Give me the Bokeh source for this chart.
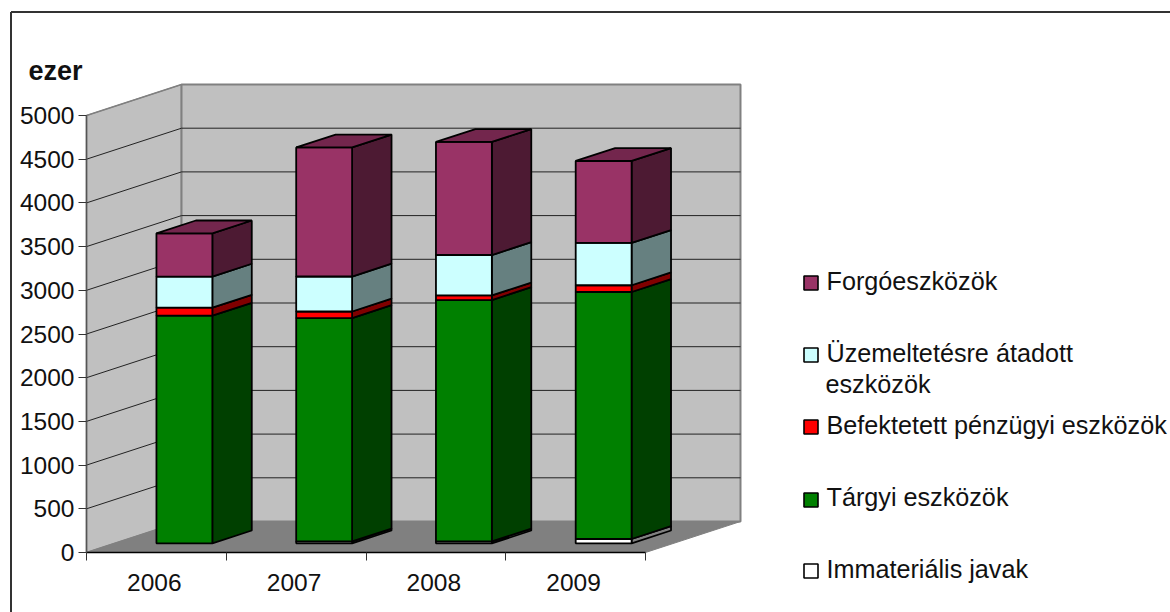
from bokeh.plotting import figure
from bokeh.models import Range1d, LinearAxis, FixedTicker
from bokeh.embed import file_html
from bokeh.resources import INLINE
from bokeh.core.properties import value

# ---- data ----
years = ["2006", "2007", "2008", "2009"]
immaterialis = [0, 22, 22, 50]
targyi = [2605, 2556, 2762, 2826]
befektetett = [92, 75, 53, 77]
uzemeltetesre = [355, 400, 462, 484]
forgo = [495, 1477, 1294, 938]
y_ticks = [0, 500, 1000, 1500, 2000, 2500, 3000, 3500, 4000, 4500, 5000]

series = [immaterialis, targyi, befektetett, uzemeltetesre, forgo]
front_col = ["#FFFFFF", "#008000", "#FF0000", "#CCFFFF", "#993366"]
side_col = ["#808080", "#004000", "#800000", "#668080", "#4D1A33"]
top_col = ["#BFBFBF", "#006000", "#BF0000", "#99BFBF", "#73264D"]

# ---- page geometry ----
W, H = 1170, 612
OX, OY = 0, 0
PX_X0, PX_Y0 = 86.0, 552.0      # pixel of category 0 / value 0
PX_PER_CAT = 139.75
PX_PER_VAL = 437.0 / 5000.0
DEPTH_X = 95.0 / PX_PER_CAT     # full depth of the 3D box, in data units
DEPTH_Y = 31.0 / PX_PER_VAL

def X(px):
    return (px - PX_X0) / PX_PER_CAT

def Y(py):
    return (PX_Y0 - py) / PX_PER_VAL

def proj(c, v, d):
    return c + d * DEPTH_X, v + d * DEPTH_Y

def quad(pts):
    p2 = [proj(*q) for q in pts]
    return [a for a, b in p2], [b for a, b in p2]

p = figure(width=W, height=H, x_range=Range1d(X(OX), X(OX + W)), y_range=Range1d(Y(OY + H), Y(OY)),
           output_backend="svg", toolbar_location=None, min_border=0,
           x_axis_type=None, y_axis_type=None, outline_line_color=None,
           background_fill_color="white", border_fill_color="white")

# chart-area frame (left and top edges are all that the window shows)
p.segment([X(10.5), X(10.5)], [Y(11.5), Y(11.5)], [X(10.5), X(1170)], [Y(612), Y(11.5)],
          line_color="#333333", line_width=2)

# walls and floor
n = len(years)
top_v = y_ticks[-1]
xs, ys = quad([(0, 0, 0), (0, top_v, 0), (0, top_v, 1), (0, 0, 1)])
p.patch(xs, ys, fill_color="#C0C0C0", line_color="#808080", line_width=1.5)
xs, ys = quad([(0, 0, 1), (0, top_v, 1), (n, top_v, 1), (n, 0, 1)])
p.patch(xs, ys, fill_color="#C0C0C0", line_color="#808080", line_width=2)
xs, ys = quad([(0, 0, 0), (n, 0, 0), (n, 0, 1), (0, 0, 1)])
p.patch(xs, ys, fill_color="#808080", line_color="#808080", line_width=1)

# gridlines
for v in y_ticks[1:]:
    a = proj(0, v, 0); b = proj(0, v, 1); c = proj(n, v, 1)
    col = "#808080" if v == top_v else "#222222"
    p.line([a[0], b[0], c[0]], [a[1], b[1], c[1]], line_color=col, line_width=1)

# stacked 3D bars
D0, D1 = 0.295, 0.71
B0, B1 = 0.30, 0.70
BAR_LW = 1.8
for i in range(n):
    base = 0
    x0, x1 = i + B0, i + B1
    for s, vals in enumerate(series):
        v = vals[i]
        if v == 0:
            continue
        t = base + v
        xs, ys = quad([(x1, base, D0), (x1, base, D1), (x1, t, D1), (x1, t, D0)])
        p.patch(xs, ys, fill_color=side_col[s], line_color="black", line_width=BAR_LW)
        xs, ys = quad([(x0, base, D0), (x1, base, D0), (x1, t, D0), (x0, t, D0)])
        p.patch(xs, ys, fill_color=front_col[s], line_color="black", line_width=BAR_LW)
        top_s = s
        base = t
    xs, ys = quad([(x0, base, D0), (x1, base, D0), (x1, base, D1), (x0, base, D1)])
    p.patch(xs, ys, fill_color=top_col[top_s], line_color="black", line_width=BAR_LW)

# axes
yax = LinearAxis(fixed_location=0, bounds=(0, top_v), ticker=FixedTicker(ticks=y_ticks))
yax.axis_line_color = "#555555"
yax.axis_line_width = 1.5
yax.major_tick_in = 0
yax.major_tick_out = 8
yax.major_tick_line_color = "#333333"
yax.minor_tick_line_color = None
yax.major_label_standoff = 4
yax.major_label_text_font = "Liberation Sans"
yax.major_label_text_font_size = "24.5px"
yax.major_label_text_color = "#111111"
p.add_layout(yax, "left")

centers = [i + 0.485 for i in range(n)]
xax = LinearAxis(fixed_location=0, bounds=(0, n),
                 ticker=FixedTicker(ticks=centers, minor_ticks=list(range(n + 1))))
xax.major_label_overrides = {c: y for c, y in zip(centers, years)}
xax.axis_line_color = "black"
xax.axis_line_width = 1.5
xax.major_tick_line_color = None
xax.major_tick_in = 0
xax.major_tick_out = 8
xax.minor_tick_in = 0
xax.minor_tick_out = 8
xax.minor_tick_line_color = "#333333"
xax.major_label_standoff = 13
xax.major_label_text_font = "Liberation Sans"
xax.major_label_text_font_size = "24.5px"
xax.major_label_text_color = "#111111"
p.add_layout(xax, "below")

# axis title
p.text([X(28)], [Y(70)], text=["ezer"], text_font=value("Liberation Sans"), text_font_style="bold",
       text_font_size="27px", text_color="#111111", text_baseline="alphabetic")

# legend
leg_names = ["Forgóeszközök", "Üzemeltetésre átadott", "Befektetett pénzügyi eszközök",
             "Tárgyi eszközök", "Immateriális javak"]
leg_cols = ["#993366", "#CCFFFF", "#FF0000", "#008000", "#FFFFFF"]
leg_y = [282.5, 354.5, 426.5, 499.5, 570.5]
leg_base = [280, 352, 424, 496, 568]
for name, col, yc, yb in zip(leg_names, leg_cols, leg_y, leg_base):
    p.rect([X(810.5)], [Y(yc)], width=14 / PX_PER_CAT, height=14 / PX_PER_VAL, fill_color=col,
           line_color="black", line_width=1.6)
    p.text([X(826)], [Y(yb)], text=[name], text_font=value("Liberation Sans"), text_font_size="25.2px",
           text_color="#111111", text_baseline="alphabetic")
p.text([X(825)], [Y(383)], text=["eszközök"], text_font=value("Liberation Sans"), text_font_size="25.2px",
       text_color="#111111", text_baseline="alphabetic")

open("out.html", "w").write(file_html(p, INLINE))
